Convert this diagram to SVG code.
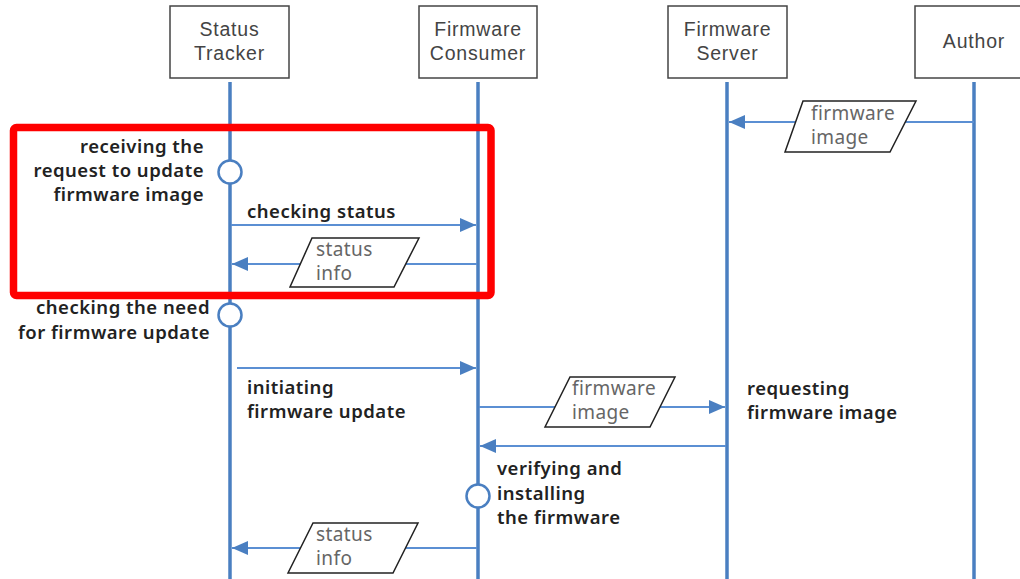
<svg xmlns="http://www.w3.org/2000/svg" width="1020" height="579" viewBox="0 0 1020 579">
<style>
.box{fill:#fff;stroke:#444;stroke-width:1.5}
.hd{font-family:"Liberation Sans","Noto Sans",sans-serif;font-size:19.5px;letter-spacing:0.8px;fill:#444;text-anchor:middle}
.life{stroke:#4a7fc1;stroke-width:3.5;fill:none}
.msg{stroke:#5b8fd3;stroke-width:2;fill:none}
.act{fill:#fff;stroke:#4a7fc1;stroke-width:2.5}
.lbl{font-family:"Noto Sans","Liberation Sans",sans-serif;font-size:18.5px;letter-spacing:0.5px;font-weight:600;fill:#222}
.data{fill:#fff;stroke:#222;stroke-width:1.5}
.dt{font-family:"Noto Sans","Liberation Sans",sans-serif;font-size:19px;letter-spacing:0.4px;fill:#666}
</style>
<defs>
<marker id="a" viewBox="0 0 16 14" refX="16" refY="7" markerWidth="16" markerHeight="14" markerUnits="userSpaceOnUse" orient="auto">
<path d="M0,0 L16,7 L0,14 z" fill="#4a7fc1"/>
</marker>
</defs>
<rect width="1020" height="579" fill="#fff"/>

<g id="status-tracker">
<rect class="box" x="170" y="6" width="119" height="72"/>
<text class="hd" x="229.5" y="36">Status</text>
<text class="hd" x="229.5" y="60">Tracker</text>
<line class="life" x1="230" y1="82" x2="230" y2="579"/>
</g>
<g id="firmware-consumer">
<rect class="box" x="419" y="6" width="118" height="72"/>
<text class="hd" x="478" y="36">Firmware</text>
<text class="hd" x="478" y="60">Consumer</text>
<line class="life" x1="478" y1="82" x2="478" y2="579"/>
</g>
<g id="firmware-server">
<rect class="box" x="668" y="6" width="119" height="72"/>
<text class="hd" x="727.5" y="36">Firmware</text>
<text class="hd" x="727.5" y="60">Server</text>
<line class="life" x1="727" y1="82" x2="727" y2="579"/>
</g>
<g id="author">
<rect class="box" x="915" y="6" width="119" height="72"/>
<text class="hd" x="974" y="48">Author</text>
<line class="life" x1="974" y1="82" x2="974" y2="579"/>
</g>

<g id="connectors">
<line class="msg" x1="974" y1="122" x2="729" y2="122" marker-end="url(#a)"/>
<line class="msg" x1="231" y1="225" x2="476" y2="225" marker-end="url(#a)"/>
<line class="msg" x1="477" y1="264" x2="232" y2="264" marker-end="url(#a)"/>
<line class="msg" x1="237" y1="368" x2="476" y2="368" marker-end="url(#a)"/>
<line class="msg" x1="479" y1="407" x2="725" y2="407" marker-end="url(#a)"/>
<line class="msg" x1="726" y1="446" x2="480" y2="446" marker-end="url(#a)"/>
<line class="msg" x1="477" y1="548" x2="232" y2="548" marker-end="url(#a)"/>
</g>

<g id="act-receive">
<circle class="act" cx="230" cy="172" r="11.5"/>
<text class="lbl" text-anchor="end"><tspan x="204" y="153">receiving the</tspan><tspan x="204" y="177">request to update</tspan><tspan x="204" y="201">firmware image</tspan></text>
</g>
<g id="act-check">
<circle class="act" cx="230" cy="315" r="11.5"/>
<text class="lbl" text-anchor="end"><tspan x="210" y="314">checking the need</tspan><tspan x="210" y="339">for firmware update</tspan></text>
</g>
<g id="act-verify">
<circle class="act" cx="478" cy="496" r="11.5"/>
<text class="lbl"><tspan x="497" y="475">verifying and</tspan><tspan x="497" y="500">installing</tspan><tspan x="497" y="524">the firmware</tspan></text>
</g>

<g id="msg-labels">
<text class="lbl" x="247" y="218">checking status</text>
<text class="lbl"><tspan x="247" y="394">initiating</tspan><tspan x="247" y="418">firmware update</tspan></text>
<text class="lbl"><tspan x="747" y="395">requesting</tspan><tspan x="747" y="419">firmware image</tspan></text>
</g>

<g id="data-fw1">
<polygon class="data" points="803,101 916,101 890,152 785,152"/>
<text class="dt"><tspan x="811" y="120">firmware</tspan><tspan x="811" y="144">image</tspan></text>
</g>
<g id="data-status1">
<polygon class="data" points="312,238 419,238 394,287 290,287"/>
<text class="dt"><tspan x="316" y="256">status</tspan><tspan x="316" y="280">info</tspan></text>
</g>
<g id="data-fw2">
<polygon class="data" points="570,377 675,377 650,427 545,427"/>
<text class="dt"><tspan x="572" y="395">firmware</tspan><tspan x="572" y="419">image</tspan></text>
</g>
<g id="data-status2">
<polygon class="data" points="313,523 418,523 393,573 288,573"/>
<text class="dt"><tspan x="316" y="541">status</tspan><tspan x="316" y="565">info</tspan></text>
</g>

<rect id="highlight" x="13.5" y="127.5" width="477.5" height="168" rx="3" fill="none" stroke="#ff0000" stroke-width="7.5"/>
</svg>
